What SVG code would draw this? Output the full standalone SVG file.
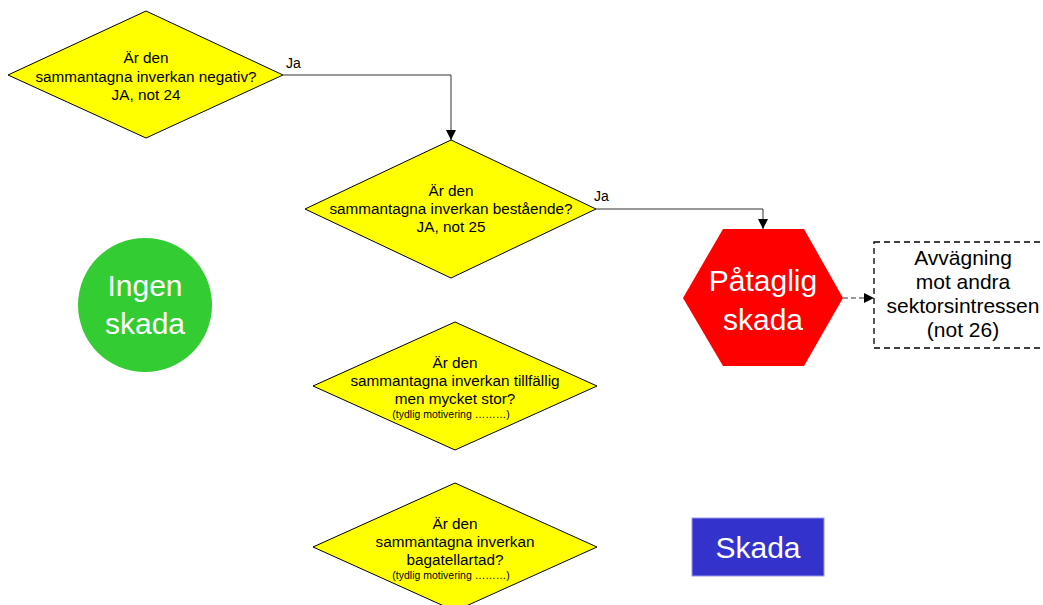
<svg xmlns="http://www.w3.org/2000/svg" width="1043" height="605" viewBox="0 0 1043 605">
  <defs>
    <marker id="arrow" viewBox="0 0 10 10" refX="10" refY="5" markerWidth="10" markerHeight="10" markerUnits="userSpaceOnUse" orient="auto">
      <path d="M0,0 L10,5 L0,10 Z" fill="#000"/>
    </marker>
    <style>
      text { font-family: "Liberation Sans", Arial, sans-serif; text-anchor: middle; }
      .decision { fill: #FFFF00; stroke: #000; stroke-width: 1; }
      .q { font-size: 15.3px; fill: #000; }
      .note { font-size: 10.5px; fill: #000; }
      .big { font-size: 30px; fill: #fff; }
      .side { font-size: 21px; fill: #000; }
      .lbl { font-size: 14px; fill: #000; text-anchor: start; }
      .conn { fill: none; stroke: #333; stroke-width: 1; }
    </style>
  </defs>
  <rect width="1043" height="605" fill="#fff"/>

  <!-- connectors -->
  <g id="connectors">
    <path class="conn" d="M283,75 H451 V140" marker-end="url(#arrow)"/>
    <text class="lbl" x="286" y="68">Ja</text>
    <path class="conn" d="M596,209 H763 V229" marker-end="url(#arrow)"/>
    <text class="lbl" x="594" y="201">Ja</text>
    <path class="conn" d="M843,298 H874" stroke="#000" stroke-dasharray="5,3" marker-end="url(#arrow)"/>
  </g>

  <!-- decision: negativ -->
  <g id="q-negativ">
    <polygon class="decision" points="146,11 283,75 146,138 8,75"/>
    <text class="q" x="146" y="63">Är den</text>
    <text class="q" x="146" y="82">sammantagna inverkan negativ?</text>
    <text class="q" x="146" y="100">JA, not 24</text>
  </g>

  <!-- decision: bestående -->
  <g id="q-bestaende">
    <polygon class="decision" points="451,140 596,209 451,278 305,209"/>
    <text class="q" x="451" y="196">Är den</text>
    <text class="q" x="451" y="214">sammantagna inverkan bestående?</text>
    <text class="q" x="451" y="232">JA, not 25</text>
  </g>

  <!-- decision: tillfällig -->
  <g id="q-tillfallig">
    <polygon class="decision" points="455,322 597,386 455,450 313,386"/>
    <text class="q" x="455" y="368">Är den</text>
    <text class="q" x="455" y="386">sammantagna inverkan tillfällig</text>
    <text class="q" x="455" y="404">men mycket stor?</text>
    <text class="note" x="451" y="418">(tydlig motivering ………)</text>
  </g>

  <!-- decision: bagatellartad -->
  <g id="q-bagatell">
    <polygon class="decision" points="455,483 597,547 455,611 313,547"/>
    <text class="q" x="455" y="529">Är den</text>
    <text class="q" x="455" y="547">sammantagna inverkan</text>
    <text class="q" x="455" y="565">bagatellartad?</text>
    <text class="note" x="451" y="579">(tydlig motivering ………)</text>
  </g>

  <!-- outcome: ingen skada -->
  <g id="ingen-skada">
    <circle cx="145" cy="305" r="67" fill="#33CC33"/>
    <text class="big" x="145" y="296">Ingen</text>
    <text class="big" x="145" y="334">skada</text>
  </g>

  <!-- outcome: påtaglig skada -->
  <g id="pataglig-skada">
    <polygon points="723,229 804,229 843,298 804,366 723,366 683,298" fill="#FF0000"/>
    <text class="big" x="763" y="291">Påtaglig</text>
    <text class="big" x="763" y="330">skada</text>
  </g>

  <!-- avvägning -->
  <g id="avvagning">
    <rect x="874" y="242" width="180" height="106" fill="#fff" stroke="#000" stroke-width="1.3" stroke-dasharray="6,4"/>
    <text class="side" x="963" y="265">Avvägning</text>
    <text class="side" x="963" y="289">mot andra</text>
    <text class="side" x="963" y="313">sektorsintressen</text>
    <text class="side" x="963" y="337">(not 26)</text>
  </g>

  <!-- outcome: skada -->
  <g id="skada">
    <rect x="692" y="518" width="132" height="58" fill="#3333CC" stroke="#9999EE" stroke-width="1"/>
    <text class="big" x="758" y="558">Skada</text>
  </g>
</svg>
